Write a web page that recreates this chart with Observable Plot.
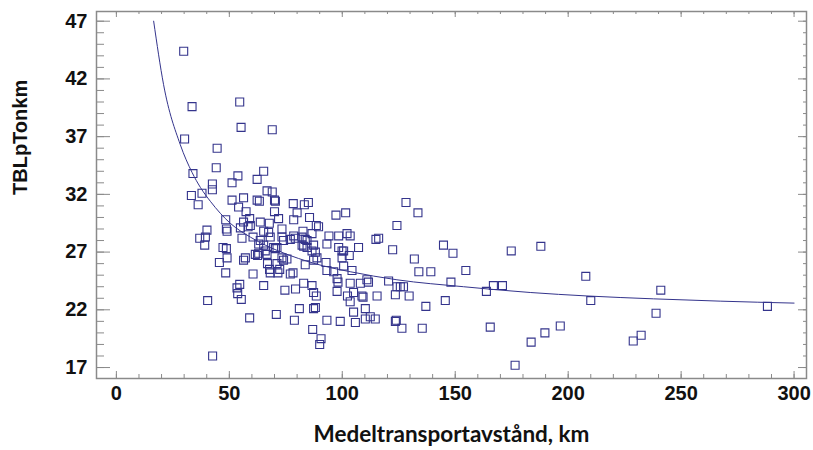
<!DOCTYPE html>
<html><head><meta charset="utf-8">
<script src="https://cdn.jsdelivr.net/npm/d3@7"></script>
<script src="https://cdn.jsdelivr.net/npm/@observablehq/plot@0.6"></script>
<style>body{margin:0;background:#fff}</style>
</head><body><div id="chart"></div>
<script>
// Observed points: average transport distance (km) vs TBLpTonkm
const distance = [29.8,33.5,54.6,55.2,69.0,30.2,44.6,33.9,44.2,53.8,51.2,62.3,65.2,42.5,42.5,33.2,37.9,66.7,69.0,51.2,
56.3,62.3,63.3,70.0,70.4,78.3,85.0,83.2,36.2,54.1,57.4,70.0,80.0,85.5,97.2,101.5,48.4,59.0,56.3,59.3,
63.7,67.7,71.8,78.5,88.5,89.5,48.7,49.0,54.9,58.3,40.1,36.9,39.4,39.1,55.6,60.5,65.2,67.4,68.1,73.3,
74.0,77.0,79.2,82.6,83.6,84.4,71.1,70.4,63.7,63.0,65.2,65.9,69.6,87.3,86.6,93.2,94.1,98.4,102.1,98.4,
100.6,47.2,48.7,49.0,45.6,57.1,61.5,62.5,66.9,67.8,71.1,72.3,75.5,74.0,78.2,77.0,83.6,87.3,88.8,92.8,
96.2,99.9,103.1,48.4,60.5,65.2,53.4,54.6,53.7,55.3,74.6,79.3,82.9,86.6,87.3,88.5,97.7,98.1,102.3,40.4,
81.0,87.3,88.1,59.0,70.8,78.8,93.2,99.1,86.9,90.6,90.0,42.6,56.3,63.0,66.7,68.1,71.5,73.3,78.5,82.2,
84.4,86.6,103.5,82.2,82.9,88.1,107.2,99.9,73.3,93.2,100.6,104.3,97.7,103.5,108.0,110.9,111.6,105.0,108.7,109.2,
103.5,110.2,105.0,105.8,110.2,128.2,133.5,124.2,114.9,116.1,122.3,144.8,149.0,131.9,133.9,139.2,120.5,124.2,125.7,127.1,
148.1,115.4,123.5,129.6,145.6,137.0,112.4,114.6,123.5,123.9,126.4,135.4,174.8,154.7,166.9,170.9,163.8,165.5,183.6,176.5,
187.9,207.8,210.0,241.0,238.9,288.2,189.7,196.5,228.8,232.3];
const tblp = [44.4,39.6,40.0,37.8,37.6,36.8,36.0,33.8,34.3,33.6,33.0,33.3,34.0,32.9,32.4,31.9,32.1,32.3,32.2,31.5,
31.7,31.5,31.4,31.5,31.4,31.2,31.3,31.1,31.1,30.9,30.5,30.5,30.4,30.0,30.2,30.4,29.8,29.9,29.6,29.3,
29.6,29.5,29.9,29.8,29.3,29.2,29.0,28.8,29.1,29.2,28.9,28.2,28.3,27.6,28.2,28.3,28.8,28.7,28.3,29.0,
28.0,28.1,28.2,28.8,28.1,27.4,27.4,27.3,28.0,27.7,27.6,27.1,27.4,27.6,27.1,27.7,28.4,28.4,28.6,27.4,
27.1,27.4,27.3,26.5,26.1,26.5,26.8,26.7,26.0,25.5,26.0,25.5,26.4,26.3,25.2,25.1,25.9,26.3,26.5,26.1,
25.3,26.5,26.7,25.2,25.1,24.1,23.9,24.2,23.4,22.9,23.7,23.8,24.3,24.1,23.5,23.2,23.6,24.4,23.2,22.8,
22.1,22.1,22.2,21.3,21.6,21.1,21.1,21.0,20.3,19.5,19.0,18.0,26.3,26.9,26.8,25.2,25.2,28.3,28.4,28.3,
28.0,28.6,28.4,27.6,27.5,27.0,27.4,27.1,26.5,25.4,25.8,25.4,24.7,24.3,24.3,24.6,24.4,23.5,23.2,23.1,
22.7,22.1,21.8,20.9,21.2,31.3,30.4,29.3,28.1,28.2,27.2,27.6,26.9,26.4,25.3,25.3,24.5,24.0,24.0,24.0,
24.4,23.2,23.3,23.2,22.8,22.3,21.4,21.2,21.0,21.1,20.4,20.4,27.1,25.4,24.1,24.1,23.6,20.5,19.2,17.2,
27.5,24.9,22.8,23.7,21.7,22.3,20.0,20.6,19.3,19.8];

// Fitted curve
const fitX = [16.5,20.9,28.3,33.5,37.2,41.6,50.4,59.3,68.1,77.0,91.7,103.5,124.2,153.7,183.2,208.3,237.7,267.3,300];
const fitY = [47.0,41.5,36.3,33.9,32.6,31.4,29.5,28.3,27.4,26.7,25.8,25.3,24.6,24.0,23.5,23.2,22.95,22.75,22.58];

const xTicks = [0,50,100,150,200,250,300];
const yTicks = [17,22,27,32,37,42,47];
const xLabel = "Medeltransportavstånd, km";
const yLabel = "TBLpTonkm";

const W = 813, H = 450, mT = 11, mB = 72, mL = 96, mR = 7;
const innerH = H - mT - mB, innerW = W - mL - mR;
const pts = distance.map((x, i) => ({x, y: tblp[i]}));
const fit = fitX.map((x, i) => ({x, y: fitY[i]}));
const xMinor = d3.range(0, 301, 10), yMinor = d3.range(17, 48, 1);
const frameC = "#8a8a8a", ink = "#34348c";

const plot = Plot.plot({
  width: W, height: H, marginTop: mT, marginBottom: mB, marginLeft: mL, marginRight: mR,
  x: {domain: [-8.8, 305.5]},
  y: {domain: [16.05, 47.84]},
  style: {fontFamily: "'Liberation Sans', Arial, sans-serif", fontSize: "20px", fontWeight: "bold", color: "#111", background: "#fff", overflow: "visible"},
  marks: [
    Plot.tickX(xMinor, {x: d => d, insetTop: innerH - 4, stroke: frameC}),
    Plot.tickX(xTicks, {x: d => d, insetTop: innerH - 7, stroke: frameC}),
    Plot.tickX(xMinor, {x: d => d, insetBottom: innerH - 3, stroke: frameC}),
    Plot.tickX(xTicks, {x: d => d, insetBottom: innerH - 6, stroke: frameC}),
    Plot.tickY(yMinor, {y: d => d, insetRight: innerW - 8, stroke: frameC}),
    Plot.tickY(yTicks, {y: d => d, insetRight: innerW - 14, stroke: frameC}),
    Plot.tickY(yMinor, {y: d => d, insetLeft: innerW - 3, stroke: frameC}),
    Plot.tickY(yTicks, {y: d => d, insetLeft: innerW - 8, stroke: frameC}),
    Plot.frame({stroke: frameC, strokeWidth: 1.5}),
    Plot.axisX({ticks: xTicks, tickSize: 0, tickPadding: 7, label: null, fontSize: 20}),
    Plot.axisY({ticks: yTicks, tickSize: 0, tickPadding: 9, label: null, fontSize: 20}),
    Plot.line(fit, {x: "x", y: "y", stroke: ink, strokeWidth: 1, curve: "monotone-x"}),
    Plot.dot(pts, {x: "x", y: "y", symbol: "square", r: 4.5, stroke: ink, strokeWidth: 1.1, fill: "none"}),
    Plot.text([xLabel], {frameAnchor: "bottom", dy: 63, text: d => d, fontFamily: "Lato, 'Open Sans', sans-serif", fontSize: 22.5, fontWeight: "bold"}),
    Plot.text([yLabel], {frameAnchor: "left", dx: -76, rotate: -90, text: d => d, fontSize: 20, fontWeight: "bold"})
  ]
});
document.getElementById("chart").appendChild(plot);
</script>
</body></html>
